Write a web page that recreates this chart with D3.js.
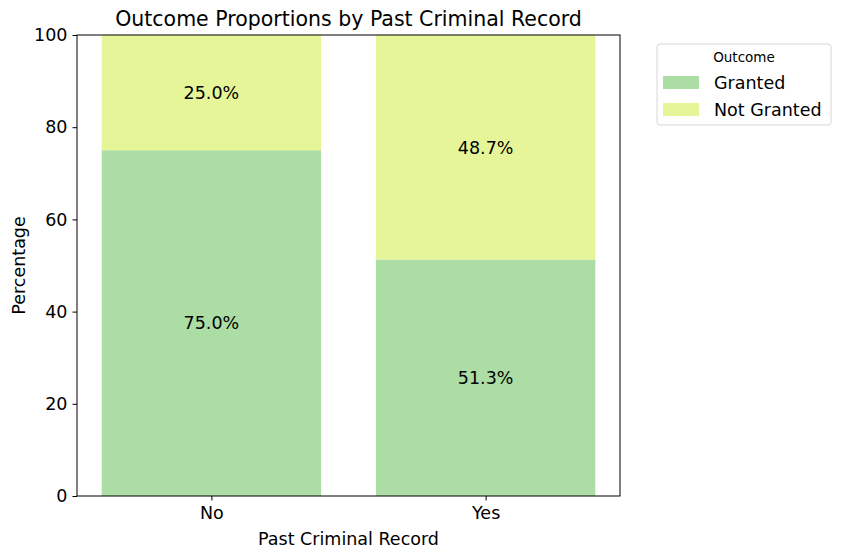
<!DOCTYPE html>
<meta charset="utf-8">
<style>
    body { margin: 0; background: #fff; }
    text { font-family: "DejaVu Sans", sans-serif; fill: #000; }
</style>
<div id="chart"></div>
<script src="https://d3js.org/d3.v7.min.js"></script>
<script>

    // data
    var categories = ["No", "Yes"];
    var outcomes = ["Granted", "Not Granted"];
    var granted = [75.0, 51.3];
    var notGranted = [25.0, 48.7];
    var yTicks = [0, 20, 40, 60, 80, 100];
    var colors = ["#abdda4", "#e6f598"];

    var margin = { top: 35, right: 221, bottom: 61, left: 77 },
        width = 841 - margin.left - margin.right,
        height = 557 - margin.top - margin.bottom;

    var svg = d3.select("#chart")
        .append("svg")
        .attr("width", 841)
        .attr("height", 557);

    var g = svg.append("g")
        .attr("transform", "translate(" + margin.left + "," + margin.top + ")");

    // matplotlib-like x axis: positions 0,1 with xlim -0.49..1.49
    var xPos = d3.scaleLinear().domain([-0.49, 1.49]).range([0, width]);
    var barW = xPos(0.8) - xPos(0);

    var y = d3.scaleLinear().domain([0, 100]).range([height, 0]);

    var rows = categories.map(function (c, i) {
        return { cat: c, i: i, Granted: granted[i], "Not Granted": notGranted[i] };
    });
    var stacked = d3.stack().keys(outcomes)(rows);

    // bars
    stacked.forEach(function (layer, k) {
        g.selectAll(".bar" + k)
            .data(layer)
            .enter()
            .append("rect")
            .attr("x", function (d) { return xPos(d.data.i) - barW / 2; })
            .attr("width", barW)
            .attr("y", function (d) { return y(d[1]); })
            .attr("height", function (d) { return y(d[0]) - y(d[1]); })
            .attr("fill", colors[k]);

        g.selectAll(".lab" + k)
            .data(layer)
            .enter()
            .append("text")
            .attr("x", function (d) { return xPos(d.data.i); })
            .attr("y", function (d) { return y((d[0] + d[1]) / 2); })
            .attr("dy", "0.36em")
            .style("text-anchor", "middle")
            .style("font-size", "17.5px")
            .text(function (d) { return (d[1] - d[0]).toFixed(1) + "%"; });
    });

    // axes
    var xAxis = g.append("g")
        .attr("transform", "translate(0," + height + ")")
        .call(d3.axisBottom(xPos).tickValues([0, 1])
            .tickFormat(function (d) { return categories[d]; })
            .tickSize(4.5).tickPadding(6));
    var yAxis = g.append("g")
        .call(d3.axisLeft(y).tickValues(yTicks).tickSize(4.5).tickPadding(5));

    [xAxis, yAxis].forEach(function (a) {
        a.select(".domain").remove();
        a.selectAll("line").attr("stroke", "#000").attr("stroke-width", 1);
        a.selectAll("text").style("font-size", "17.5px").style("font-family", "DejaVu Sans, sans-serif");
    });

    // frame
    g.append("rect")
        .attr("width", width)
        .attr("height", height)
        .attr("fill", "none")
        .attr("stroke", "#000")
        .attr("stroke-width", 1);

    // title and axis labels
    svg.append("text")
        .attr("x", margin.left + width / 2)
        .attr("y", 26)
        .style("text-anchor", "middle")
        .style("font-size", "20.5px")
        .text("Outcome Proportions by Past Criminal Record");

    svg.append("text")
        .attr("x", margin.left + width / 2)
        .attr("y", 545)
        .style("text-anchor", "middle")
        .style("font-size", "17.5px")
        .text("Past Criminal Record");

    svg.append("text")
        .attr("transform", "rotate(-90)")
        .attr("x", -(margin.top + height / 2))
        .attr("y", 25)
        .style("text-anchor", "middle")
        .style("font-size", "17.5px")
        .text("Percentage");

    // legend
    var leg = svg.append("g").attr("transform", "translate(657,44)");
    leg.append("rect")
        .attr("width", 174)
        .attr("height", 81)
        .attr("rx", 3)
        .attr("fill", "#fff")
        .attr("stroke", "#d6d6d6")
        .attr("stroke-width", 1);
    leg.append("text")
        .attr("x", 87)
        .attr("y", 18)
        .style("text-anchor", "middle")
        .style("font-size", "13.5px")
        .text("Outcome");
    outcomes.forEach(function (o, k) {
        leg.append("rect")
            .attr("x", 6)
            .attr("y", 32 + k * 27)
            .attr("width", 36)
            .attr("height", 13)
            .attr("fill", colors[k]);
        leg.append("text")
            .attr("x", 57)
            .attr("y", 38.5 + k * 27)
            .attr("dy", "0.36em")
            .style("font-size", "17.5px")
            .text(o);
    });

</script>
